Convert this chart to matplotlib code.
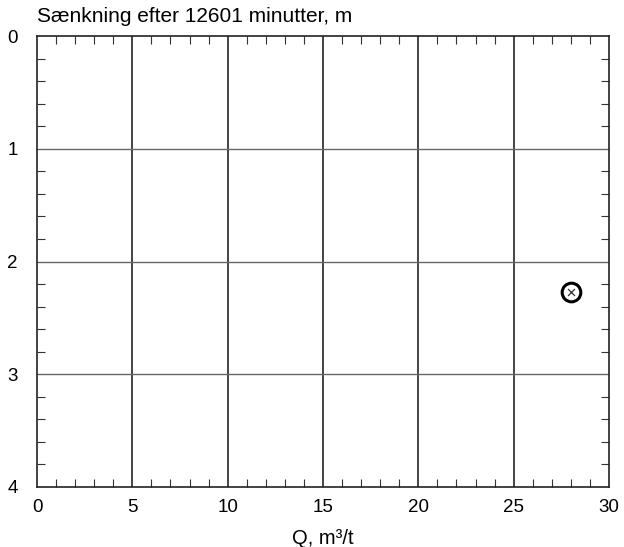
import matplotlib
matplotlib.use("Agg")
import matplotlib.pyplot as plt
from matplotlib.ticker import MultipleLocator

plt.rcParams['font.family'] = ['Liberation Sans', 'DejaVu Sans']

q_values = [28]
drawdown = [2.27]
x_ticks = [0, 5, 10, 15, 20, 25, 30]
y_ticks = [0, 1, 2, 3, 4]
title = "Sænkning efter 12601 minutter, m"
xlabel = "Q, m³/t"

fig = plt.figure(figsize=(6.24, 5.47), dpi=100)
ax = fig.add_axes([0.0593, 0.1097, 0.9167, 0.8243])

ax.set_xlim(0, 30)
ax.set_ylim(4, 0)
ax.set_xticks(x_ticks)
ax.set_yticks(y_ticks)
ax.xaxis.set_minor_locator(MultipleLocator(1))
ax.yaxis.set_minor_locator(MultipleLocator(0.2))

for x in x_ticks[1:-1]:
    ax.axvline(x, color='#111111', lw=1.1, zorder=1)
for y in y_ticks[1:-1]:
    ax.axhline(y, color='#666666', lw=1.0, zorder=1)

ax.tick_params(axis='both', which='both', direction='in', top=True, right=True,
               labeltop=False, labelright=False)
ax.tick_params(axis='both', which='major', length=0, labelsize=13.5, pad=9)
ax.tick_params(axis='both', which='minor', length=6, width=0.8, color='#333333')
ax.tick_params(axis='y', which='major', pad=14)

for s in ax.spines.values():
    s.set_linewidth(1.2)
    s.set_color('#222222')

ax.scatter(q_values, drawdown, s=180, facecolors='white', edgecolors='black',
           linewidths=2.2, zorder=3)
ax.scatter(q_values, drawdown, s=25, marker='x', color='#333333', linewidths=0.9, zorder=4)

ax.set_xlabel(xlabel, fontsize=14.5, labelpad=9)
fig.text(0.0593, 0.952, title, fontsize=15, ha='left', va='bottom')

fig.savefig("out.png", dpi=100)
